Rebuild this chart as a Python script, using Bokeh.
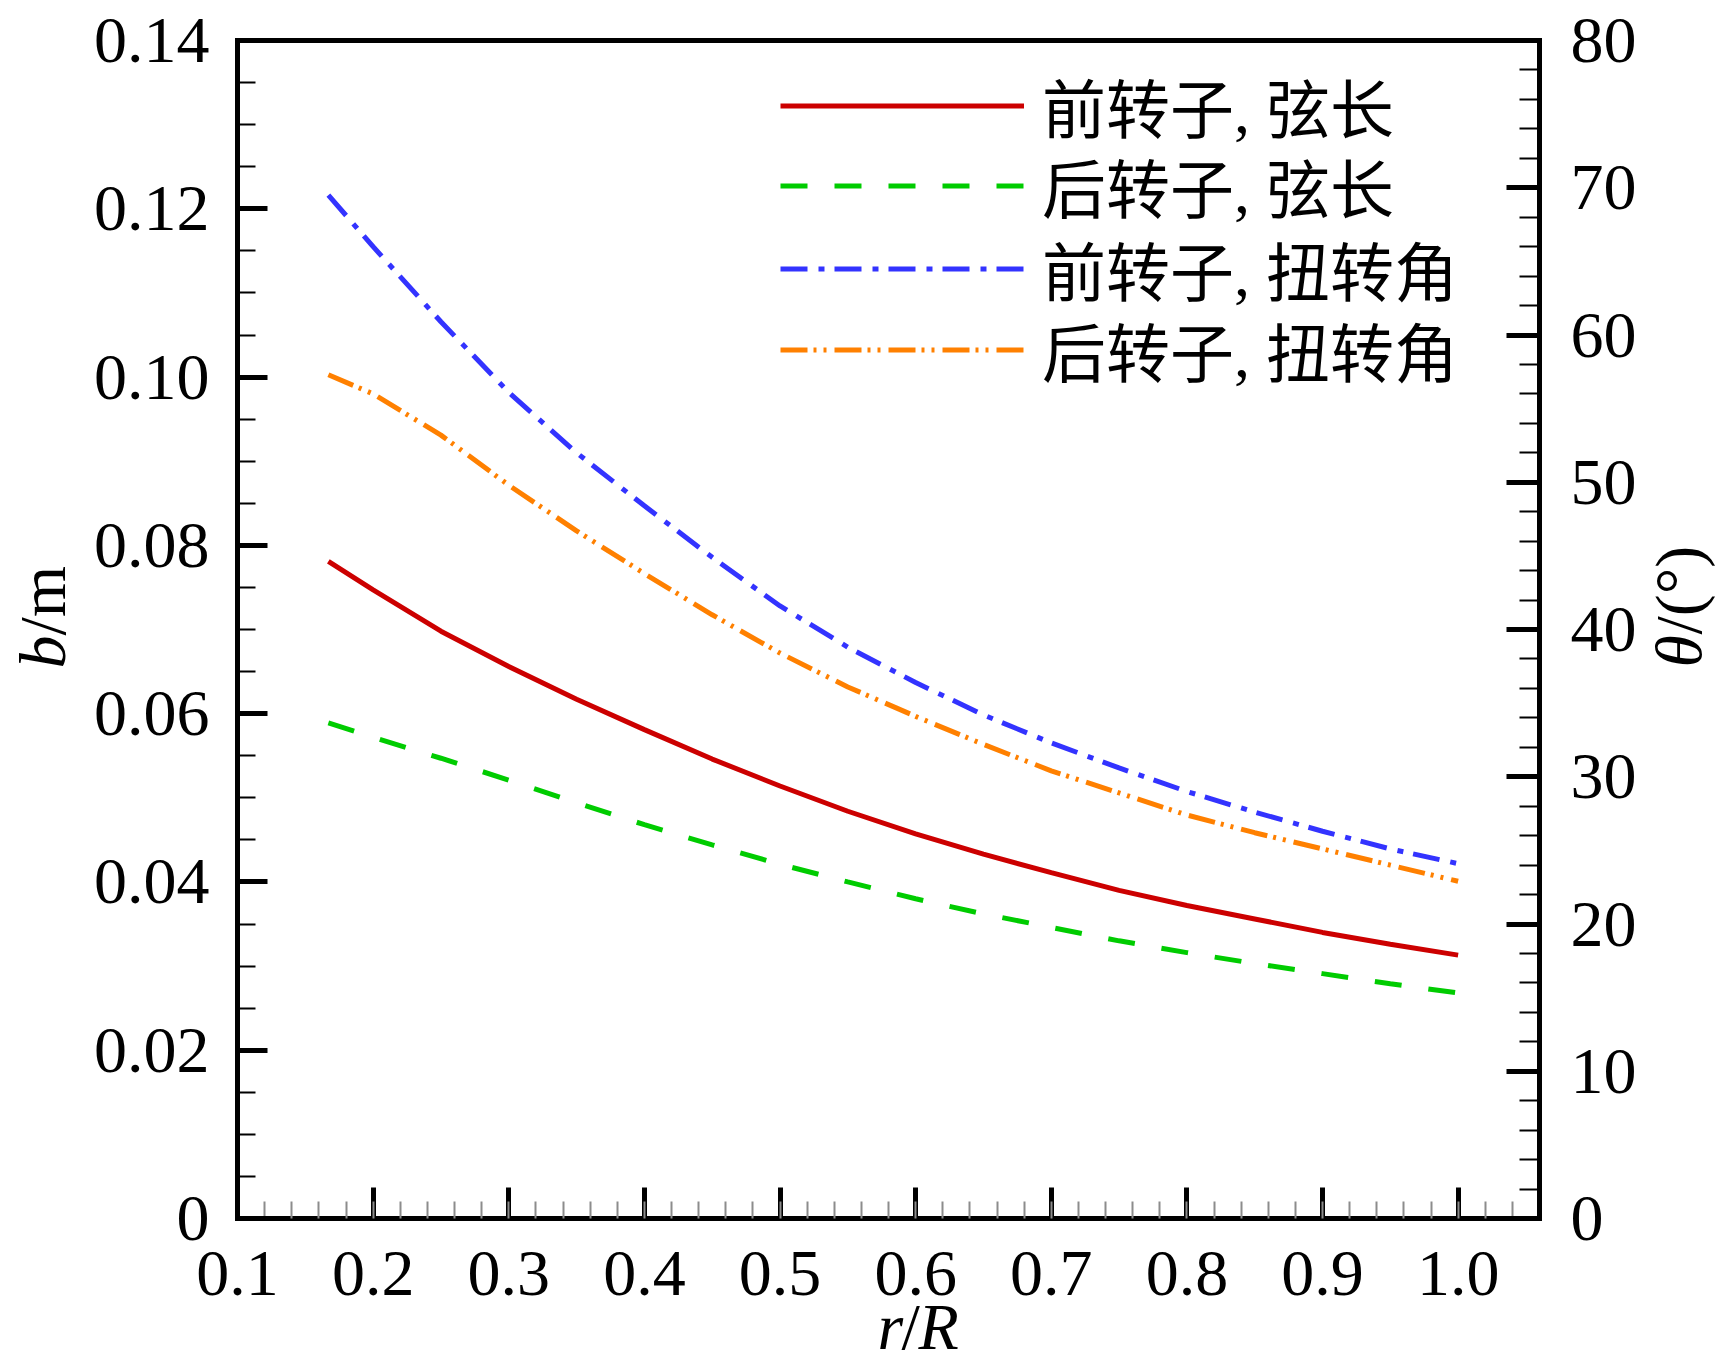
from bokeh.plotting import figure
from bokeh.models import (Range1d, LinearAxis, FixedTicker, NumeralTickFormatter,
                          Legend, LegendItem, Label, ColumnDataSource)
from bokeh.embed import file_html
from bokeh.resources import INLINE
import math

# ---------------- data ----------------
r_R = [0.167, 0.2, 0.25, 0.3, 0.35, 0.4, 0.45, 0.5, 0.55, 0.6,
       0.65, 0.7, 0.75, 0.8, 0.85, 0.9, 0.95, 1.0]
chord_front = [0.0781, 0.0747, 0.0698, 0.0656, 0.0617, 0.0581, 0.0546, 0.0514, 0.0484,
               0.0457, 0.0433, 0.0411, 0.0390, 0.0372, 0.0356, 0.0340, 0.0326, 0.0313]
chord_rear = [0.0589, 0.0572, 0.0547, 0.0521, 0.0494, 0.0468, 0.0444, 0.0421, 0.0400,
              0.0380, 0.0362, 0.0346, 0.0330, 0.0316, 0.0303, 0.0291, 0.0279, 0.0268]
twist_front = [69.5, 66.0, 60.9, 56.1, 52.0, 48.4, 44.9, 41.6, 38.8,
               36.4, 34.2, 32.3, 30.6, 29.0, 27.6, 26.3, 25.1, 24.1]
twist_rear = [57.3, 56.0, 53.2, 49.8, 46.7, 43.8, 41.0, 38.4, 36.1,
              34.1, 32.2, 30.4, 28.9, 27.4, 26.2, 25.1, 24.0, 22.9]

x_ticks = [0.1, 0.2, 0.3, 0.4, 0.5, 0.6, 0.7, 0.8, 0.9, 1.0]
b_ticks = [0, 0.02, 0.04, 0.06, 0.08, 0.10, 0.12, 0.14]
theta_ticks = [0, 10, 20, 30, 40, 50, 60, 70, 80]
legend_labels = ["前转子, 弦长", "后转子, 弦长", "前转子, 扭转角", "后转子, 扭转角"]

# ---------------- layout (page pixels; the canvas sits at the page origin) ----------------
W, H = 1719, 1371
X0, X1 = 0.1, 1.06            # plotted box, x
B0, B1 = 0.0, 0.14            # plotted box, left axis
T0, T1 = 0.0, 80.0            # plotted box, right axis
BOX_L, BOX_R, BOX_T, BOX_B = 237, 1539, 40, 1218

kx = (BOX_R - BOX_L) / (X1 - X0)
kb = (BOX_B - BOX_T) / (B1 - B0)
kt = (BOX_B - BOX_T) / (T1 - T0)
x_range = Range1d(X0 - BOX_L / kx, X1 + (W - BOX_R) / kx)
y_range = Range1d(B0 - (H - BOX_B) / kb, B1 + BOX_T / kb)
t_range = Range1d(T0 - (H - BOX_B) / kt, T1 + BOX_T / kt)

SERIF = "Liberation Serif"
TICK_SIZE = "66px"

p = figure(width=W, height=H, output_backend="svg", toolbar_location=None, title=None,
           x_range=x_range, y_range=y_range,
           min_border=0, min_border_left=0, min_border_right=0,
           min_border_top=0, min_border_bottom=0)
p.extra_y_ranges = {"theta": t_range}
p.grid.visible = False
p.outline_line_color = None
p.background_fill_color = "white"
p.border_fill_color = "white"

xaxis = p.xaxis[0]
yaxis = p.yaxis[0]
raxis = LinearAxis(y_range_name="theta")
taxis = LinearAxis()
p.add_layout(raxis, "right")
p.add_layout(taxis, "above")

xaxis.fixed_location = B0
xaxis.bounds = (X0, X1)
yaxis.fixed_location = X0
yaxis.bounds = (B0, B1)
raxis.fixed_location = X1
raxis.bounds = (T0, T1)
taxis.fixed_location = B1
taxis.bounds = (X0, X1)

xaxis.ticker = FixedTicker(ticks=x_ticks,
                           minor_ticks=[round(0.1 + 0.02 * i, 3) for i in range(0, 49)])
xaxis.formatter = NumeralTickFormatter(format="0.0")
yaxis.ticker = FixedTicker(ticks=b_ticks,
                           minor_ticks=[round(0.005 * i, 4) for i in range(0, 29)])
yaxis.formatter = NumeralTickFormatter(format="0.00")
yaxis.major_label_overrides = {0: "0"}
raxis.ticker = FixedTicker(ticks=theta_ticks, minor_ticks=list(range(0, 81, 2)))
taxis.ticker = FixedTicker(ticks=[], minor_ticks=[])

for ax in (xaxis, yaxis, raxis, taxis):
    ax.axis_label = None
    ax.axis_line_color = "black"
    ax.axis_line_width = 5
    ax.axis_line_cap = "square"
    ax.major_tick_line_color = "black"
    ax.major_tick_line_width = 5
    ax.major_tick_out = 0
    ax.minor_tick_out = 0
    ax.minor_tick_line_width = 2
    ax.minor_tick_line_color = "black"
    ax.major_label_text_font = SERIF
    ax.major_label_text_font_size = TICK_SIZE
    ax.major_label_text_color = "black"

xaxis.major_tick_in = 31
xaxis.minor_tick_in = 17
xaxis.minor_tick_line_color = "#8c8c8c"
xaxis.major_label_standoff = 33
yaxis.major_tick_in = 30
yaxis.minor_tick_in = 18
yaxis.major_label_standoff = 28
raxis.major_tick_in = 33
raxis.minor_tick_in = 20
raxis.major_label_standoff = 31
taxis.major_tick_line_color = None
taxis.minor_tick_line_color = None
taxis.major_label_text_color = None

# ---------------- curves ----------------
src = ColumnDataSource(dict(r=r_R, bf=chord_front, br=chord_rear,
                            tf=twist_front, tr=twist_rear))
l1 = p.line("r", "bf", source=src, line_color="#cc0000", line_width=5)
l2 = p.line("r", "br", source=src, line_color="#00cc00", line_width=5, line_dash="27 27")
l3 = p.line("r", "tf", source=src, y_range_name="theta", line_color="#3333ff",
            line_width=5, line_dash="27 11 6 10")
l4 = p.line("r", "tr", source=src, y_range_name="theta", line_color="#ff8000",
            line_width=5, line_dash="27 6 3 7 3 8")

# one legend box per row, so the row pitch matches the reference
row_centres = [104, 184, 267, 348]
ITEM_H = 94
for lab, rd, c in zip(legend_labels, [l1, l2, l3, l4], row_centres):
    lg = Legend(items=[LegendItem(label=lab, renderers=[rd])],
                location=(780, H - c - ITEM_H // 2), orientation="vertical",
                glyph_width=244, glyph_height=83, label_height=83, label_standoff=18,
                spacing=0, padding=0, margin=0,
                border_line_color=None, background_fill_alpha=0,
                label_text_font="'Liberation Serif', 'Noto Sans CJK SC'",
                label_text_font_size="64px", label_text_color="black")
    p.add_layout(lg, "center")

# ---------------- axis titles (mixed italic), page pixel positions ----------------
def add_label(cx, cy, text, style, angle=0.0):
    # screen units are measured from the frame's bottom-left; the frame fills the canvas
    p.add_layout(Label(x=cx, y=H - cy, x_units="screen", y_units="screen", text=text,
                       text_font=SERIF, text_font_size="66px", text_font_style=style,
                       text_color="black", angle=angle,
                       text_align="left", text_baseline="alphabetic"))

# left: b/m (reading upward)
add_label(42, 668, "b", "italic", math.pi / 2)
add_label(42, 635, "/m", "normal", math.pi / 2)
# bottom: r/R
add_label(877, 1326, "r", "italic")
add_label(901, 1326, "/", "normal")
add_label(918, 1326, "R", "italic")
# right: θ/(°) (reading upward)
add_label(1678, 667, "θ", "italic", math.pi / 2)
add_label(1678, 634, "/(°)", "normal", math.pi / 2)

open("out.html", "w").write(file_html(p, INLINE))
